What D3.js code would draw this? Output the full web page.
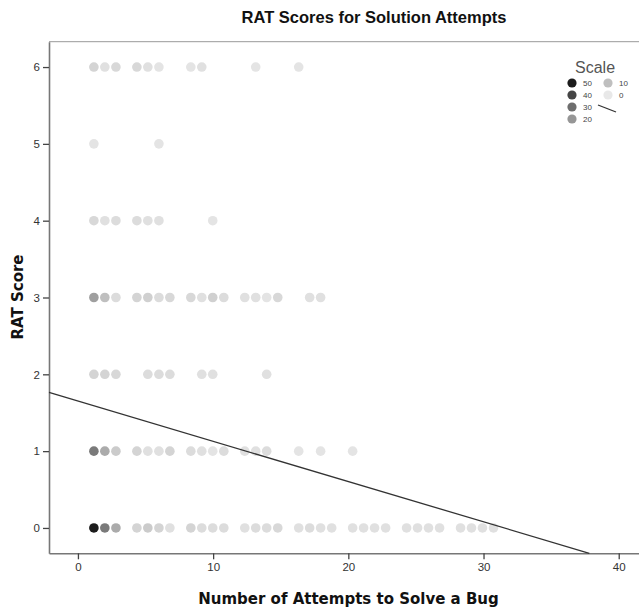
<!DOCTYPE html>
<html>
  <head>
    <meta charset="utf-8">
    <title>RAT Scores for Solution Attempts</title>
    <script src="https://cdn.jsdelivr.net/npm/d3@7"></script>
    <style>
      body { margin: 0; background: #fff; }
      svg { display: block; }
      .tick text { font-family: "Liberation Sans", Arial, sans-serif; font-size: 11.5px; fill: #333; }
      .axisLabel { font-family: "DejaVu Sans", Verdana, sans-serif; font-size: 15px; font-weight: bold; fill: #111; }
    </style>
  </head>

  <body>
    <svg id="chart" width="639" height="609"></svg>

    <script>
      // dot bins: [attempts bin centre, number of cases], one array per RAT score
      score6 = [[1.18, 5], [1.99, 2], [2.81, 4], [4.36, 4], [5.17, 2], [5.99, 1], [8.35, 1], [9.16, 2], [13.15, 1], [16.33, 1]];
      score5 = [[1.18, 1], [5.99, 1]];
      score4 = [[1.18, 4], [1.99, 2], [2.81, 3], [4.36, 3], [5.17, 2], [5.99, 2], [9.97, 1]];
      score3 = [[1.18, 18], [1.99, 10], [2.81, 3], [4.36, 5], [5.17, 6], [5.99, 3], [6.80, 4], [8.35, 4], [9.16, 2], [9.97, 6],
                [10.79, 3], [12.34, 2], [13.15, 2], [13.96, 1], [14.78, 4], [17.14, 2], [17.95, 2]];
      score2 = [[1.18, 5], [1.99, 5], [2.81, 4], [5.17, 3], [5.99, 3], [6.80, 3], [9.16, 2], [9.97, 2], [13.96, 2]];
      score1 = [[1.18, 27], [1.99, 15], [2.81, 7], [4.36, 5], [5.17, 2], [5.99, 2], [6.80, 5], [8.35, 3], [9.16, 2], [9.97, 1],
                [10.79, 3], [12.34, 2], [13.15, 2], [13.96, 3], [16.33, 1], [17.95, 1], [20.32, 1]];
      score0 = [[1.18, 50], [1.99, 27], [2.81, 15], [4.36, 5], [5.17, 7], [5.99, 5], [6.80, 2], [8.35, 5], [9.16, 3], [9.97, 3],
                [10.79, 3], [12.34, 2], [13.15, 3], [13.96, 3], [14.78, 4], [16.33, 2], [17.14, 3], [17.95, 2], [18.77, 2],
                [20.32, 2], [21.13, 2], [21.94, 2], [22.76, 2], [24.31, 2], [25.12, 2], [25.93, 2], [26.75, 2],
                [28.30, 2], [29.11, 2], [29.92, 2], [30.74, 2]];
      scoreRows = [score0, score1, score2, score3, score4, score5, score6];

      xTicks = [0, 10, 20, 30, 40];
      yTicks = [0, 1, 2, 3, 4, 5, 6];
      legendValues = [50, 40, 30, 20, 10, 0];

      // fitted line: score = intercept + slope * attempts
      fitIntercept = 1.652;
      fitSlope = -0.0524;

      // flatten rows into points
      points = [];
      scoreRows.forEach(function(row, score) {
        row.forEach(function(d) {
          points.push({ attempts: d[0], score: score, n: d[1] });
        });
      });

      chart = d3.select("#chart");

      margin = { top: 41.7, right: 0, bottom: 55.7, left: 49 };
      width = 639;
      height = 609;

      x = d3.scaleLinear()
        .domain([-2.14, 41.5])
        .range([margin.left, width - margin.right]);
      y = d3.scaleLinear()
        .domain([-0.33, 6.33])
        .range([height - margin.bottom, margin.top]);
      shade = d3.scaleLinear()
        .domain([0, 50])
        .range(["#e8e8e8", "#1c1c1c"]);

      // title
      chart.append("text")
        .attr("x", 374)
        .attr("y", 23)
        .attr("text-anchor", "middle")
        .style("font-family", "'Liberation Sans', Arial, sans-serif")
        .style("font-size", "16.5px")
        .style("font-weight", "bold")
        .style("fill", "#111")
        .text("RAT Scores for Solution Attempts");

      // frame top
      chart.append("line")
        .attr("x1", margin.left)
        .attr("x2", width)
        .attr("y1", margin.top)
        .attr("y2", margin.top)
        .style("stroke", "#999")
        .style("stroke-width", 1);

      // axes
      xAxis = d3.axisBottom(x)
        .tickValues(xTicks)
        .tickFormat(d3.format("d"))
        .tickSizeOuter(0)
        .tickSizeInner(6)
        .tickPadding(4);
      yAxis = d3.axisLeft(y)
        .tickValues(yTicks)
        .tickFormat(d3.format("d"))
        .tickSizeOuter(0)
        .tickSizeInner(6)
        .tickPadding(3);

      xAxisGroup = chart.append("g")
        .attr("transform", "translate(0, " + y.range()[0] + ")")
        .call(xAxis);
      yAxisGroup = chart.append("g")
        .attr("transform", "translate(" + margin.left + ", 0)")
        .call(yAxis);
      [xAxisGroup, yAxisGroup].forEach(function(g) {
        g.select(".domain").style("stroke", "#777").style("stroke-width", 1.6);
        g.selectAll(".tick line").style("stroke", "#444").style("stroke-width", 1.3);
        g.attr("font-family", null).attr("font-size", null);
      });

      // dots
      chart.append("g")
        .selectAll("circle")
          .data(points)
        .enter().append("circle")
          .attr("cx", function(d) { return x(d.attempts); })
          .attr("cy", function(d) { return y(d.score); })
          .attr("r", 4.8)
          .style("fill", function(d) { return shade(d.n); });

      // fit line, clipped to the plot area
      xStart = x.domain()[0];
      xEnd = (y.domain()[0] - fitIntercept) / fitSlope;
      chart.append("line")
        .attr("x1", x(xStart))
        .attr("y1", y(fitIntercept + fitSlope * xStart))
        .attr("x2", x(xEnd))
        .attr("y2", y(fitIntercept + fitSlope * xEnd))
        .style("stroke", "#333")
        .style("stroke-width", 1.3);

      // axis labels
      chart.append("text")
        .attr("class", "axisLabel")
        .attr("x", 348.5)
        .attr("y", 604)
        .attr("text-anchor", "middle")
        .text("Number of Attempts to Solve a Bug");
      chart.append("text")
        .attr("class", "axisLabel")
        .attr("transform", "translate(23, 297) rotate(-90)")
        .attr("text-anchor", "middle")
        .text("RAT Score");

      // legend
      legend = chart.append("g");
      legend.append("text")
        .attr("x", 575)
        .attr("y", 73)
        .style("font-family", "'Liberation Sans', Arial, sans-serif")
        .style("font-size", "16px")
        .style("fill", "#555")
        .text("Scale");
      keys = legend.selectAll(".key")
          .data(legendValues)
        .enter().append("g")
          .attr("class", "key")
          .attr("transform", function(d, i) {
            return "translate(" + (i < 4 ? 572 : 608) + ", " + (83 + (i % 4) * 12) + ")";
          });
      keys.append("circle")
        .attr("r", 4.6)
        .style("fill", function(d) { return shade(d); });
      keys.append("text")
        .attr("x", 11)
        .attr("dy", "0.35em")
        .style("font-family", "'Liberation Sans', Arial, sans-serif")
        .style("font-size", "8px")
        .style("fill", "#444")
        .text(function(d) { return d; });
      legend.append("line")
        .attr("x1", 598)
        .attr("y1", 105)
        .attr("x2", 616)
        .attr("y2", 112)
        .style("stroke", "#333")
        .style("stroke-width", 1.3);
    </script>
  </body>
</html>
